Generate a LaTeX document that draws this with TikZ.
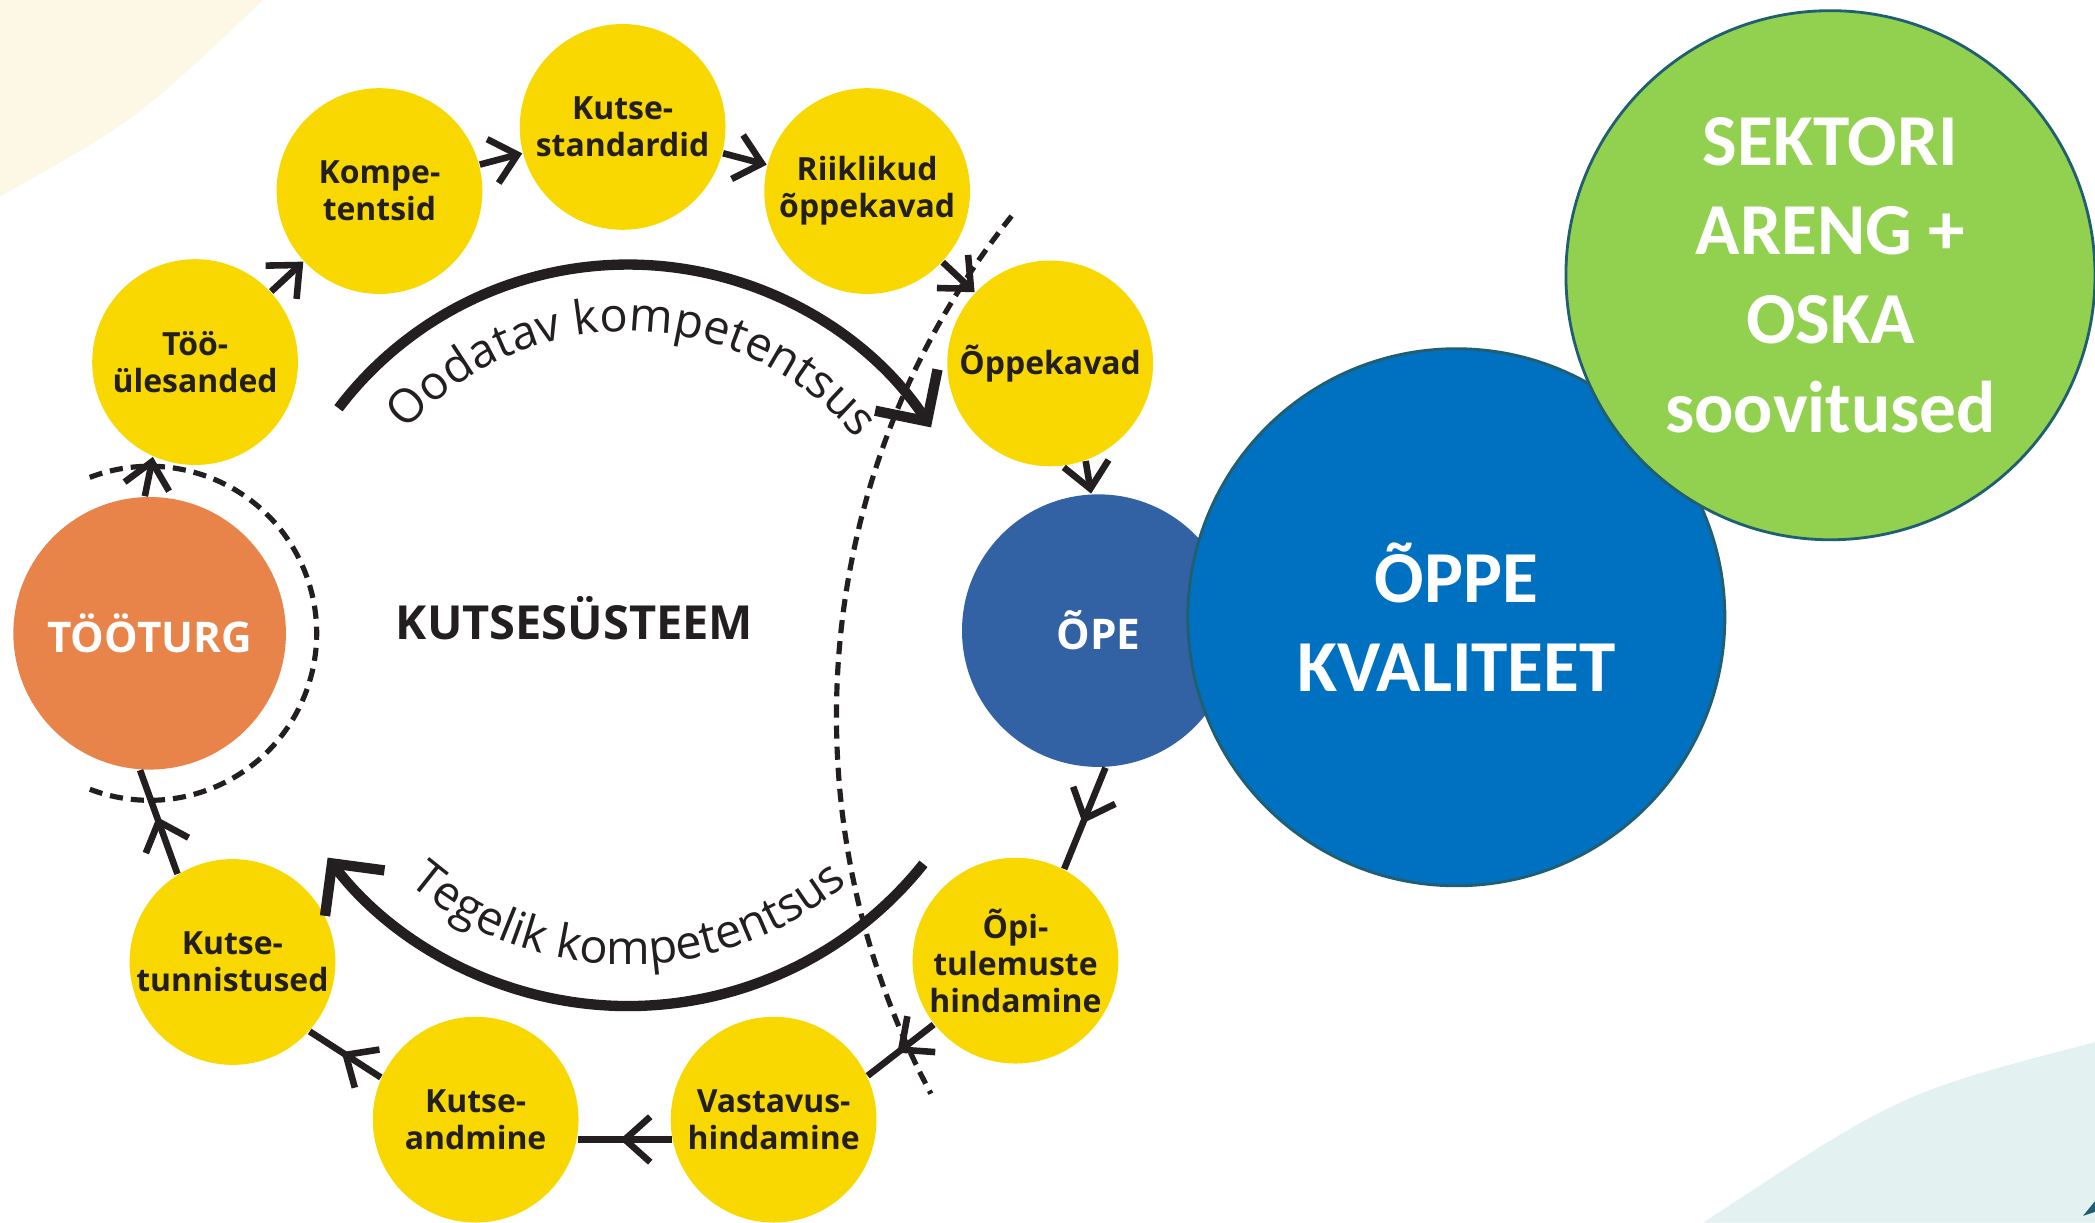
\documentclass[tikz,border=0pt]{standalone}
\usepackage{fontspec}
\setmainfont{Open Sans}
\newfontfamily\calfont{Carlito}
\usetikzlibrary{arrows.meta,decorations.text,decorations.markings}

\definecolor{stepyellow}{HTML}{F8D800}
\definecolor{marketorange}{HTML}{E8844A}
\definecolor{opeblue}{HTML}{3262A4}
\definecolor{qualblue}{HTML}{0070C0}
\definecolor{sectgreen}{HTML}{92D050}
\definecolor{rimteal}{HTML}{1F5F6F}
\definecolor{creambg}{HTML}{FDF7E6}
\definecolor{mistbg}{HTML}{E3F1F1}
\definecolor{inkgray}{HTML}{231F20}

\tikzset{
stepnode/.style={circle,fill=stepyellow,minimum size=1.54cm,inner sep=0pt,align=center,text=inkgray,font=\fontsize{6.8}{7.9}\selectfont\bfseries},
hubnode/.style={circle,minimum size=2.04cm,inner sep=0pt,text=white,font=\fontsize{9}{10}\selectfont\bfseries},
bignode/.style={circle,draw=rimteal,line width=0.6pt,inner sep=0pt,align=center,text=white,font=\calfont\fontsize{15.6}{19}\selectfont\bfseries},
flow/.style={line width=1.4pt,draw=inkgray,-{Straight Barb[length=1.9mm,width=3.4mm]}},
midflow/.style={line width=1.4pt,draw=inkgray,postaction={decorate},decoration={markings,mark=at position 0.55 with {\arrow{Straight Barb[length=1.9mm,width=3.4mm]}}}},
bigflow/.style={line width=2.2pt,draw=inkgray,-{Straight Barb[length=2.8mm,width=5.6mm]}},
fence/.style={line width=1.1pt,draw=inkgray,dash pattern=on 2.8pt off 1.7pt},
arclabel/.style={decorate,decoration={text along path,text align=center,text color=inkgray,text={|\fontsize{10}{12}\selectfont|#1}}}
}

\begin{document}
\begin{tikzpicture}
\useasboundingbox (0,0) rectangle (15.68,9.15);
\fill[white] (0,0) rectangle (15.68,9.15);
\fill[creambg] (0,7.68) .. controls (1.02,8.25) .. (1.97,9.15) -- (0,9.15) -- cycle;
\fill[mistbg] (12.75,0) .. controls (14.22,0.97) .. (15.68,1.35) -- (15.68,0) -- cycle;
\fill[rimteal] (15.59,0.05) -- (15.68,0.16) -- (15.68,0.08) -- cycle;

\coordinate (mid) at (4.70,4.45);
\coordinate (bend) at (12.26,3.79);

\node[stepnode] (tyo) at (1.46,6.44) {Töö-\\ülesanded};
\node[stepnode] (komp) at (2.84,7.72) {Kompe-\\tentsid};
\node[stepnode] (kstd) at (4.66,8.20) {Kutse-\\standardid};
\node[stepnode] (riik) at (6.49,7.72) {Riiklikud\\õppekavad};
\node[stepnode] (oppek) at (7.86,6.43) {Õppekavad};
\node[hubnode,fill=opeblue] (ope) at (8.22,4.43) {ÕPE};
\node[stepnode] (opit) at (7.60,1.96) {Õpi-\\tulemuste\\hindamine};
\node[stepnode] (vast) at (5.79,0.77) {Vastavus-\\hindamine};
\node[stepnode] (kand) at (3.56,0.77) {Kutse-\\andmine};
\node[stepnode] (ktun) at (1.74,1.95) {Kutse-\\tunnistused};
\node[hubnode,fill=marketorange] (turg) at (1.12,4.41) {TÖÖTURG};
\node[text=inkgray,font=\fontsize{10}{12}\selectfont\bfseries] (kss) at (4.30,4.52) {KUTSESÜSTEEM};

\node[bignode,fill=qualblue,minimum size=4.02cm] (kval) at (10.90,4.53) {ÕPPE\\KVALITEET};
\node[bignode,fill=sectgreen,minimum size=3.96cm] (sekt) at (13.70,7.09) {SEKTORI\\ARENG +\\OSKA\\soovitused};

\draw[flow] (tyo) -- (komp);
\draw[flow] (komp) -- (kstd);
\draw[flow] (kstd) -- (riik);
\draw[flow] (riik) -- (oppek);
\draw[flow] (oppek.-70) -- (ope.93);
\draw[midflow] (ope.-87) -- (opit.62);
\draw[midflow] (opit.218) -- (vast.25);
\draw[midflow] (vast.191) -- (kand.-11);
\draw[midflow] (kand.156) -- (ktun.-42);
\draw[midflow] (ktun.122) -- (turg.-94);
\draw[flow] (turg.92) -- (tyo.-114);

\draw[bigflow] (mid) ++(142.8:2.72) arc[start angle=142.8,end angle=33.5,radius=2.72];
\draw[bigflow] (mid) ++(-38.6:2.83) arc[start angle=-38.6,end angle=-142.6,radius=2.83];
\path[arclabel=Oodatav kompetentsus] (mid) ++(150:2.22) arc[start angle=150,end angle=28,radius=2.22];
\path[arclabel=Tegelik kompetentsus] (mid) ++(210:2.52) arc[start angle=210,end angle=330,radius=2.52];

\draw[fence] (turg.center) ++(111:1.25) arc[start angle=111,end angle=-111,radius=1.25];
\draw[fence] (bend) ++(141.4:6) arc[start angle=141.4,end angle=208.1,radius=6];
\end{tikzpicture}
\end{document}
